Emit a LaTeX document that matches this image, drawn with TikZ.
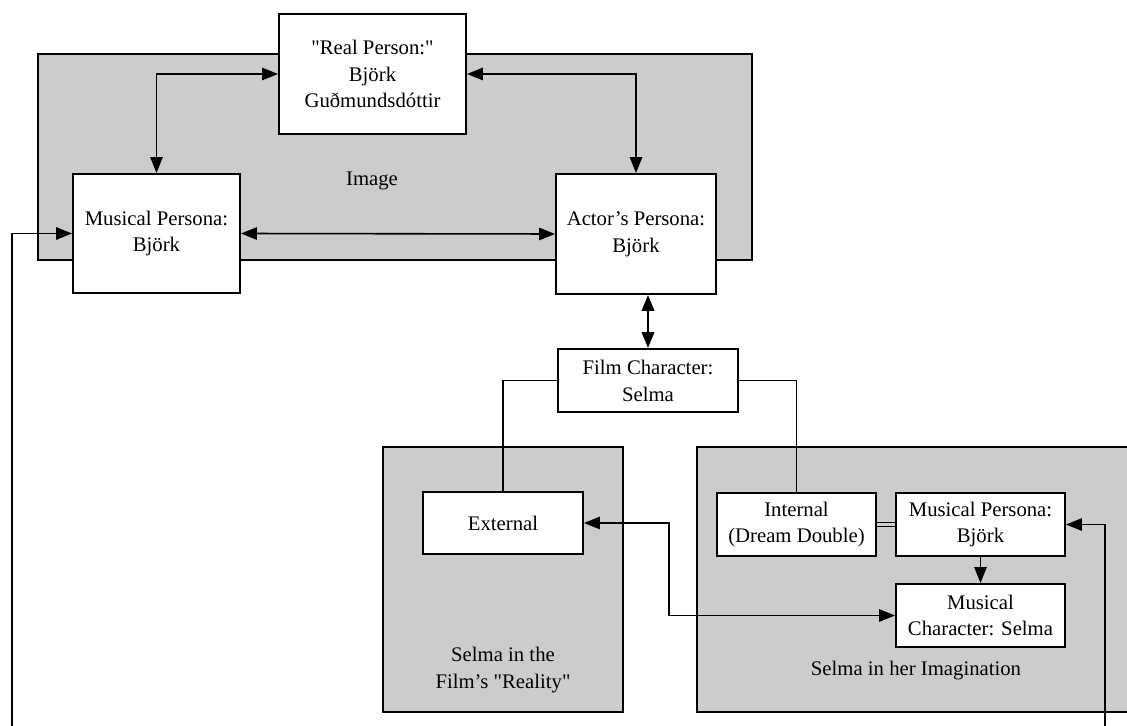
\documentclass[tikz,border=0pt]{standalone}
\usepackage{fontspec}
\setmainfont{Liberation Serif}
\usetikzlibrary{arrows.meta}
\definecolor{regiongray}{RGB}{204,204,204}
\tikzset{
    rolebox/.style={draw, line width=1.1pt, fill=white, align=center, inner sep=0pt},
    region/.style={draw, line width=1.1pt, fill=regiongray},
    link/.style={line width=0.9pt},
    >={Triangle[length=9pt,width=7pt]}
}
\begin{document}
\begin{tikzpicture}[x=0.02cm, y=-0.02cm, font=\fontsize{11.8}{15.3}\selectfont]
    \clip (0,0) rectangle (1127,726);

    % Draw the grey regions
    \draw[region] (38,54) rectangle (752,260);
    \draw[region] (383,447) rectangle (623,712);
    \draw[region] (697,447) rectangle (1150,712);

    % Labels for the regions
    \node (image) at (372,181) {Image};
    \node[align=center] (reality) at (503,670) {Selma in the\\Film's \textquotedbl Reality\textquotedbl};
    \node (imagination) at (916,671) {Selma in her Imagination};

    % Draw the boxes
    \node[rolebox, minimum width=3.74cm, minimum height=2.4cm] (realp) at (372.5,74) {\textquotedbl Real Person:\textquotedbl\\Björk\\Guðmundsdóttir};
    \node[rolebox, minimum width=3.34cm, minimum height=2.38cm] (musicL) at (156.5,233.5) {Musical Persona:\\Björk};
    \node[rolebox, minimum width=3.2cm, minimum height=2.4cm] (actor) at (636,234) {Actor's Persona:\\Björk};
    \node[rolebox, minimum width=3.6cm, minimum height=1.26cm] (film) at (648,380.5) {Film Character:\\Selma};
    \node[rolebox, minimum width=3.2cm, minimum height=1.24cm] (external) at (503,523) {External};
    \node[rolebox, minimum width=3.18cm, minimum height=1.26cm] (internal) at (796.5,524.5) {Internal\\(Dream Double)};
    \node[rolebox, minimum width=3.38cm, minimum height=1.26cm] (musicR) at (980.5,524.5) {Musical Persona:\\Björk};
    \node[rolebox, minimum width=3.38cm, minimum height=1.26cm] (mchar) at (980.5,615.5) {Musical\\Character: Selma};

    % Draw the arrows inside the image
    \draw[link, <->] (realp.west) -| (musicL.north);
    \draw[link, <->] (realp.east) -| (actor.north);
    \draw[link, <->] (musicL.east) -- (actor.west);
    \draw[link, <->, line width=1.3pt] (film.north |- actor.south) -- (film.north);

    % Draw the branches of the film character
    \draw[link] (film.west) -| (external.north);
    \draw[link] (film.east) -| (internal.north);
    \draw[double=regiongray, line width=0.6pt, double distance=1.3pt] (internal.east) -- (musicR.west);
    \draw[link, ->] (musicR.south) -- (mchar.north);
    \draw[link, <->] (external.east) -- ++(85,0) |- (mchar.west);

    % Draw the long loop under the picture
    \coordinate (loopR) at (1105,740);
    \coordinate (loopL) at (12,740);
    \draw[link, <->] (musicR.east) -| (loopR) -- (loopL) |- (musicL.west);
\end{tikzpicture}
\end{document}
